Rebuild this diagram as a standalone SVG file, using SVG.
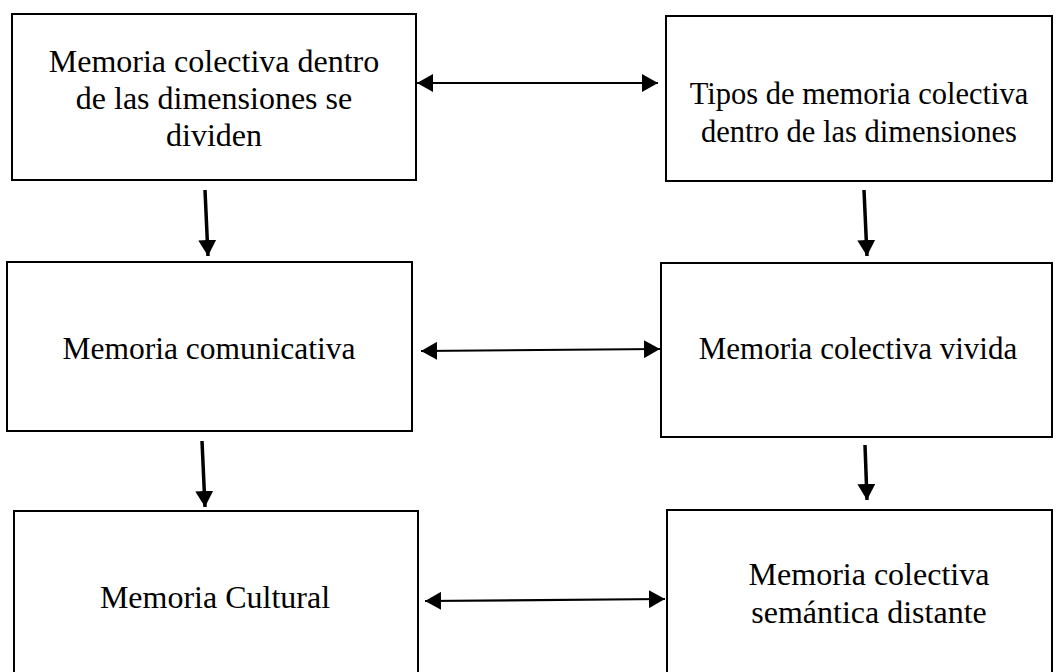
<svg xmlns="http://www.w3.org/2000/svg" width="1060" height="672" viewBox="0 0 1060 672">
<style>
.box{fill:#fff;stroke:#000;stroke-width:2}
.t{font-family:"Liberation Serif","Times New Roman",serif;font-size:31px;fill:#000;text-anchor:middle}
.h{stroke:#000;stroke-width:2.2;fill:none}
.v{stroke:#000;stroke-width:3.5;fill:none}
</style>
<defs>
<marker id="ah" markerUnits="userSpaceOnUse" markerWidth="17" markerHeight="18" refX="16" refY="9" orient="auto-start-reverse" viewBox="0 0 17 18">
<path d="M0,0 L16,9 L0,18 z" fill="#000"/>
</marker>
<marker id="av" markerUnits="userSpaceOnUse" markerWidth="17" markerHeight="18" refX="16" refY="9" orient="auto" viewBox="0 0 17 18">
<path d="M0,0 L16,9 L0,18 z" fill="#000"/>
</marker>
</defs>
<rect width="1060" height="672" fill="#fff"/>
<g id="n1"><rect class="box" x="12" y="14" width="404" height="166"/>
<text class="t" style="font-size:32px" x="214" y="72">Memoria colectiva dentro</text>
<text class="t" style="font-size:32px" x="214" y="109">de las dimensiones se</text>
<text class="t" style="font-size:32px" x="214" y="146">dividen</text></g>
<g id="n2"><rect class="box" x="666" y="16" width="386" height="165"/>
<text class="t" style="font-size:30.5px" x="859" y="104">Tipos de memoria colectiva</text>
<text class="t" style="font-size:30.5px" x="859" y="142">dentro de las dimensiones</text></g>
<g id="n3"><rect class="box" x="7" y="262" width="405" height="169"/>
<text class="t" style="font-size:31.5px" x="209" y="359">Memoria comunicativa</text></g>
<g id="n4"><rect class="box" x="661" y="263" width="391" height="174"/>
<text class="t" x="858" y="359">Memoria colectiva vivida</text></g>
<g id="n5"><rect class="box" x="14" y="511" width="404" height="170"/>
<text class="t" style="font-size:32px" x="215" y="608">Memoria Cultural</text></g>
<g id="n6"><rect class="box" x="667" y="510" width="385" height="170"/>
<text class="t" style="font-size:32px" x="869" y="585">Memoria colectiva</text>
<text class="t" style="font-size:32px" x="869" y="623">semántica distante</text></g>
<g id="connectors">
<line class="h" x1="417" y1="83" x2="658" y2="83" marker-start="url(#ah)" marker-end="url(#ah)"/>
<line class="h" x1="421" y1="351" x2="660" y2="349" marker-start="url(#ah)" marker-end="url(#ah)"/>
<line class="h" x1="425" y1="601" x2="665" y2="599" marker-start="url(#ah)" marker-end="url(#ah)"/>
<line class="v" x1="205" y1="190" x2="208" y2="256" marker-end="url(#av)"/>
<line class="v" x1="864" y1="190" x2="867" y2="256" marker-end="url(#av)"/>
<line class="v" x1="202" y1="441" x2="205" y2="507" marker-end="url(#av)"/>
<line class="v" x1="865" y1="445" x2="867" y2="500" marker-end="url(#av)"/>
</g>
</svg>
